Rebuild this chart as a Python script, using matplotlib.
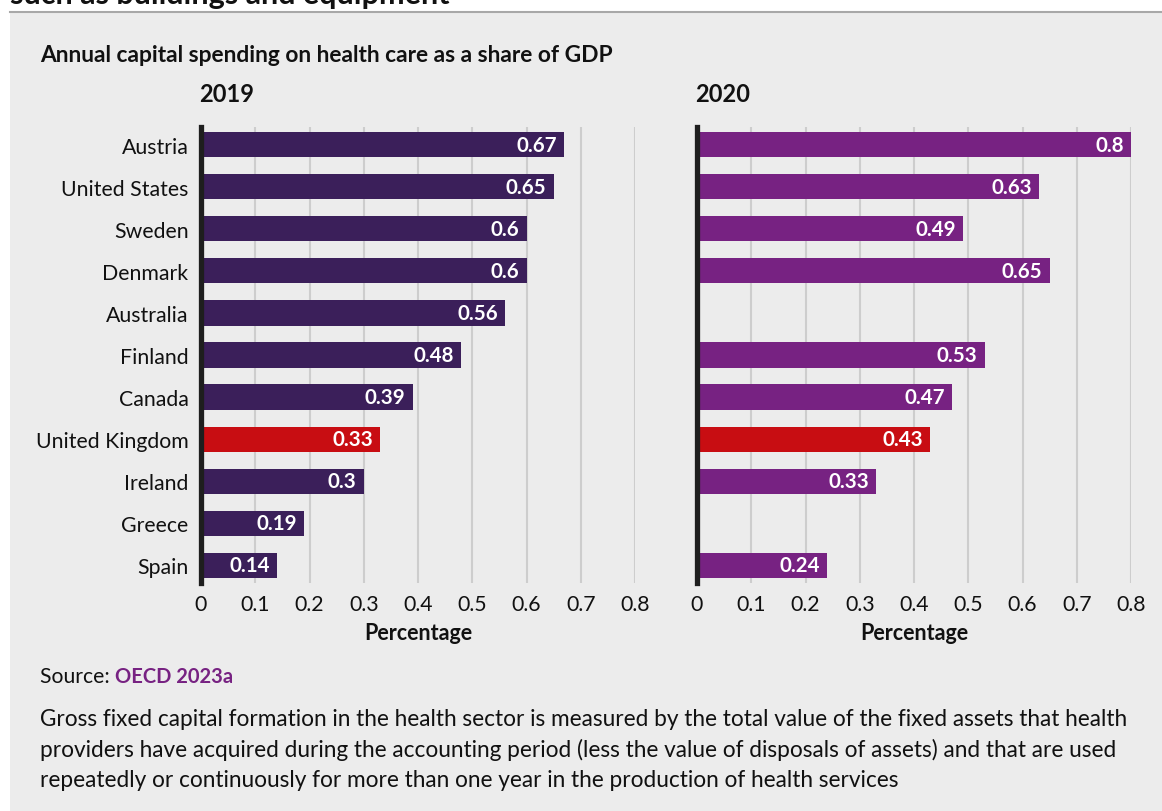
import matplotlib
matplotlib.use("Agg")
import matplotlib.pyplot as plt
import numpy as np
from matplotlib.patches import Rectangle
from matplotlib.lines import Line2D

plt.rcParams["font.family"] = ["Lato", "DejaVu Sans"]

countries = ["Austria", "United States", "Sweden", "Denmark", "Australia",
             "Finland", "Canada", "United Kingdom", "Ireland", "Greece", "Spain"]
values_2019 = [0.67, 0.65, 0.6, 0.6, 0.56, 0.48, 0.39, 0.33, 0.3, 0.19, 0.14]
values_2020 = [0.8, 0.63, 0.49, 0.65, np.nan, 0.53, 0.47, 0.43, 0.33, np.nan, 0.24]
x_ticks = [0, 0.1, 0.2, 0.3, 0.4, 0.5, 0.6, 0.7, 0.8]
tick_labels = ["0", "0.1", "0.2", "0.3", "0.4", "0.5", "0.6", "0.7", "0.8"]
highlight = "United Kingdom"

BG = "#ececec"
C2019 = "#3b1f5a"
C2020 = "#772282"
RED = "#c80d12"
GRID = "#cdcdcd"

W, H = 1162, 812
fig = plt.figure(figsize=(W / 100, H / 100), dpi=100, facecolor="white")

# grey card behind the chart, with a rule along its top
fig.add_artist(Rectangle((10 / W, 0), 1 - 10 / W, 1 - 13 / H, transform=fig.transFigure,
                         facecolor=BG, edgecolor="none", zorder=0))
fig.add_artist(Line2D([10 / W, 1], [1 - 12.5 / H] * 2, transform=fig.transFigure,
                      color="#a8a8a8", linewidth=1.5, zorder=1))

# heading above the card, running off the top edge
fig.text(10 / W, 1 - 4 / H, "such as buildings and equipment", fontsize=22,
         fontweight="bold", color="#111111", va="baseline", ha="left")

fig.text(40 / W, 1 - 62 / H, "Annual capital spending on health care as a share of GDP",
         fontsize=16.4, fontweight="bold", color="#111111", va="baseline")


def draw_panel(left_px, values, colour, year, show_labels):
    ax = fig.add_axes([left_px / W, (H - 584) / H, 434 / W, 456 / H])
    ax.set_facecolor(BG)
    ypos = np.arange(len(countries))
    colours = [RED if c == highlight else colour for c in countries]
    ax.barh(ypos, values, height=0.6, color=colours, zorder=3)
    for y, v in zip(ypos, values):
        if np.isnan(v):
            continue
        ax.text(v - 0.013, y, f"{v:g}", ha="right", va="center", color="white",
                fontsize=14.8, fontweight="bold", zorder=4)
    ax.set_xlim(0, 0.8)
    ax.set_ylim(len(countries) - 0.58, -0.42)
    ax.set_xticks(x_ticks)
    ax.set_xticklabels(tick_labels)
    ax.set_yticks(ypos)
    ax.set_yticklabels(countries if show_labels else [])
    ax.tick_params(axis="both", length=0, labelsize=15.3, colors="#111111")
    ax.tick_params(axis="x", pad=8)
    ax.tick_params(axis="y", pad=9)
    ax.xaxis.grid(True, color=GRID, linewidth=1.5, zorder=0)
    ax.set_axisbelow(True)
    for side in ("top", "right", "bottom"):
        ax.spines[side].set_visible(False)
    ax.spines["left"].set_color("#1e1e1e")
    ax.spines["left"].set_linewidth(3.8)
    ax.spines["left"].set_zorder(5)
    ax.set_xlabel("Percentage", fontsize=15.5, fontweight="bold", color="#111111", labelpad=6)
    fig.text((left_px - 2) / W, 1 - 95 / H, year, fontsize=17, fontweight="bold",
             color="#111111", va="center", ha="left")
    return ax


draw_panel(201, values_2019, C2019, "2019", True)
draw_panel(697, values_2020, C2020, "2020", False)

# source line and note
src = fig.text(40 / W, 1 - 683 / H, "Source: ", fontsize=15.2, color="#111111", va="baseline")
fig.canvas.draw()
bb = src.get_window_extent()
fig.text(bb.x1 / W, 1 - 683 / H, "OECD 2023a", fontsize=14.5, fontweight="bold",
         color=C2020, va="baseline")

note = ("Gross fixed capital formation in the health sector is measured by the total value of the fixed assets that health\n"
        "providers have acquired during the accounting period (less the value of disposals of assets) and that are used\n"
        "repeatedly or continuously for more than one year in the production of health services")
fig.text(40 / W, 1 - 709 / H, note, fontsize=16.3, color="#111111", va="top",
         linespacing=1.5)

fig.savefig("out.png", dpi=100, facecolor="white")
